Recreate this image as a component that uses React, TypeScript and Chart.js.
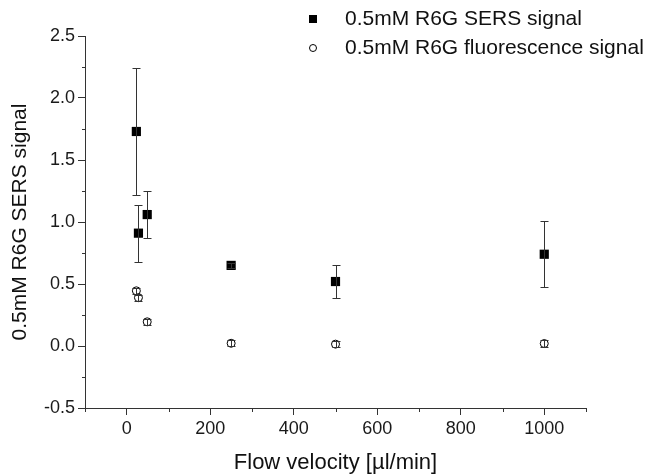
import React, { useEffect, useRef } from "react";
import { Chart, registerables } from "chart.js";
Chart.register(...registerables);

const flowVelocity = [23, 28, 49, 250, 500, 1000];
const sersSignal = [1.73, 0.91, 1.06, 0.65, 0.52, 0.74];
const sersError = [0.51, 0.23, 0.19, 0.02, 0.13, 0.265];
const fluorSignal = [0.445, 0.39, 0.195, 0.022, 0.015, 0.02];
const fluorError = [0.025, 0.025, 0.025, 0.025, 0.025, 0.025];
const seriesNames = ["0.5mM R6G SERS signal", "0.5mM R6G fluorescence signal"];
const xTitle = "Flow velocity [µl/min]";
const yTitle = "0.5mM R6G SERS signal";

const FONT = "Arial, 'Liberation Sans', sans-serif";

export default function App() {
  const ref = useRef<HTMLCanvasElement>(null);
  useEffect(() => {
    const errs = [sersError, fluorError];
    const errorBars = {
      id: "errorBars",
      afterDatasetsDraw(chart: any) {
        const ctx = chart.ctx;
        const xs = chart.scales.x;
        const ys = chart.scales.y;
        ctx.save();
        ctx.strokeStyle = "#333";
        ctx.lineWidth = 1;
        chart.data.datasets.forEach((ds: any, i: number) => {
          ds.data.forEach((p: any, j: number) => {
            const e = errs[i][j];
            const px = Math.round(xs.getPixelForValue(p.x)) + 0.5;
            const top = Math.round(ys.getPixelForValue(p.y + e)) + 0.5;
            const bot = Math.round(ys.getPixelForValue(p.y - e)) + 0.5;
            ctx.beginPath();
            ctx.moveTo(px, top);
            ctx.lineTo(px, bot);
            ctx.moveTo(px - 4, top);
            ctx.lineTo(px + 4, top);
            ctx.moveTo(px - 4, bot);
            ctx.lineTo(px + 4, bot);
            ctx.stroke();
          });
        });
        ctx.restore();
      },
    };
    const minorTicks = {
      id: "minorTicks",
      afterDraw(chart: any) {
        const ctx = chart.ctx;
        const xs = chart.scales.x;
        const ys = chart.scales.y;
        ctx.save();
        ctx.strokeStyle = "#333";
        ctx.lineWidth = 1;
        ctx.beginPath();
        xs.ticks.forEach((t: any) => {
          if (Math.round(t.value) % 200 !== 0) {
            const px = Math.round(xs.getPixelForValue(t.value)) + 0.5;
            ctx.moveTo(px, xs.top);
            ctx.lineTo(px, xs.top + 4);
          }
        });
        ys.ticks.forEach((t: any) => {
          const v = t.value;
          if (Math.abs(v * 2 - Math.round(v * 2)) > 1e-6) {
            const py = Math.round(ys.getPixelForValue(v)) + 0.5;
            ctx.moveTo(ys.right, py);
            ctx.lineTo(ys.right - 3, py);
          }
        });
        ctx.stroke();
        ctx.restore();
      },
    };
    const legendPlugin = {
      id: "customLegend",
      afterDraw(chart: any) {
        const ctx = chart.ctx;
        ctx.save();
        ctx.fillStyle = "#000";
        ctx.fillRect(309, 15, 8, 8);
        ctx.beginPath();
        ctx.arc(313, 48, 3.5, 0, Math.PI * 2);
        ctx.fillStyle = "#fff";
        ctx.fill();
        ctx.strokeStyle = "#000";
        ctx.lineWidth = 1;
        ctx.stroke();
        ctx.fillStyle = "#111";
        ctx.font = `21px ${FONT}`;
        ctx.textBaseline = "middle";
        ctx.textAlign = "left";
        ctx.fillText(seriesNames[0], 345, 19);
        ctx.fillText(seriesNames[1], 345, 48);
        ctx.restore();
      },
    };
    const isMajorY = (v: number) => Math.abs(v * 2 - Math.round(v * 2)) < 1e-6;
    const chart = new Chart(ref.current as HTMLCanvasElement, {
      type: "scatter",
      data: {
        datasets: [
          {
            label: seriesNames[0],
            data: flowVelocity.map((x, i) => ({ x, y: sersSignal[i] })),
            pointStyle: "rect",
            pointRadius: 6.5,
            backgroundColor: "#000",
            borderColor: "#000",
            borderWidth: 0,
          },
          {
            label: seriesNames[1],
            data: flowVelocity.map((x, i) => ({ x, y: fluorSignal[i] })),
            pointStyle: "circle",
            pointRadius: 4,
            backgroundColor: "#fff",
            borderColor: "#000",
            borderWidth: 1,
          },
        ],
      },
      options: {
        responsive: false,
        animation: false,
        layout: { padding: { left: 0, top: 36, right: 69, bottom: 0 } },
        plugins: { legend: { display: false }, tooltip: { enabled: false } },
        scales: {
          x: {
            type: "linear",
            min: -100,
            max: 1100,
            border: { display: true, color: "#333", width: 1 },
            grid: {
              drawOnChartArea: false,
              drawTicks: true,
              tickLength: 7,
              color: "#333",
              tickColor: (c: any) =>
                c.tick && Math.round(c.tick.value) % 200 === 0 ? "#333" : "rgba(0,0,0,0)",
            },
            ticks: {
              stepSize: 100,
              autoSkip: false,
              maxRotation: 0,
              padding: 3,
              color: "#1a1a1a",
              font: { family: FONT, size: 18 },
              callback: (v: any) => (Math.round(v) % 200 === 0 ? String(v) : ""),
            },
            title: {
              display: true,
              text: xTitle,
              color: "#111",
              font: { family: FONT, size: 22 },
              padding: { top: 0, bottom: -2 },
            },
            afterFit: (s: any) => {
              s.height = 66;
            },
          },
          y: {
            type: "linear",
            min: -0.5,
            max: 2.5,
            border: { display: true, color: "#333", width: 1 },
            grid: {
              drawOnChartArea: false,
              drawTicks: true,
              tickLength: 7,
              color: "#333",
              tickColor: (c: any) =>
                c.tick && isMajorY(c.tick.value) ? "#333" : "rgba(0,0,0,0)",
            },
            ticks: {
              stepSize: 0.25,
              autoSkip: false,
              padding: 3,
              color: "#1a1a1a",
              font: { family: FONT, size: 18 },
              callback: (v: any) => (isMajorY(v) ? Number(v).toFixed(1) : ""),
            },
            title: {
              display: true,
              text: yTitle,
              color: "#111",
              font: { family: FONT, size: 21 },
              padding: { top: 8, bottom: 0 },
            },
            afterFit: (s: any) => {
              s.width = 85;
            },
          },
        },
      },
      plugins: [errorBars, minorTicks, legendPlugin],
    });
    return () => chart.destroy();
  }, []);
  return (
    <div style={{ position: "absolute", left: 0, top: 0, width: 655, height: 474, background: "#fff" }}>
      <canvas ref={ref} width={655} height={474} style={{ display: "block" }} />
    </div>
  );
}
